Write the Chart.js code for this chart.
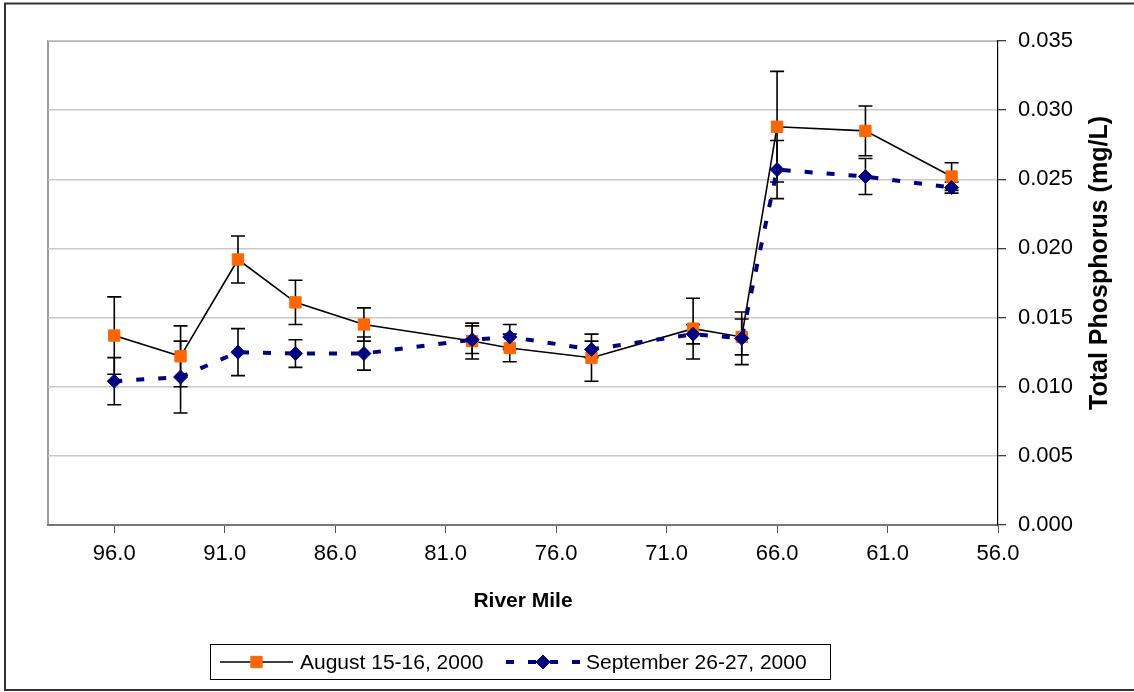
<!DOCTYPE html>
<html lang="en">
<head>
  <title>Total Phosphorus by River Mile</title>
  <script src="https://cdn.jsdelivr.net/npm/chart.js"></script>
  <style>
    html, body { margin: 0; padding: 0; background: #fff; }
    canvas { display: block; }
  </style>
</head>
<body>
<canvas id="tpChart" width="1134" height="692"></canvas>
<script>
  // sampling stations (river mile) and total phosphorus results, mg/L
  const riverMile = [96.0, 93.0, 90.4, 87.8, 84.7, 79.8, 78.1, 74.4, 69.8, 67.6, 66.0, 62.0, 58.1];
  const augTP  = [0.0137, 0.0122, 0.0192, 0.0161, 0.0145, 0.0133, 0.0128, 0.0121, 0.0142, 0.0136, 0.0288, 0.0285, 0.0252];
  const augErr = [0.0028, 0.0022, 0.0017, 0.0016, 0.0012, 0.0013, 0.0010, 0.0017, 0.0022, 0.0013, 0.0040, 0.0018, 0.0010];
  const sepTP  = [0.0104, 0.0107, 0.0125, 0.0124, 0.0124, 0.0134, 0.0136, 0.0127, 0.0138, 0.0135, 0.0257, 0.0252, 0.0244];
  const sepErr = [0.0017, 0.0026, 0.0017, 0.0010, 0.0012, 0.0010, 0.0009, 0.0006, 0.0007, 0.0019, 0.0021, 0.0013, 0.0004];
  const mileTicks = [96, 91, 86, 81, 76, 71, 66, 61, 56];
  const seriesNames = ['August 15-16, 2000', 'September 26-27, 2000'];

  const fontFamily = 'Arial, "Liberation Sans", sans-serif';
  const errorSets = [augErr, sepErr];

  function points(values) {
    return riverMile.map((m, i) => ({ x: m, y: values[i] }));
  }

  // black +/- error bars with caps, drawn under the markers
  const errorBars = {
    id: 'errorBars',
    beforeDatasetsDraw(chart) {
      const { ctx, scales: { x, y } } = chart;
      ctx.save();
      ctx.strokeStyle = '#000';
      ctx.lineWidth = 1.6;
      chart.data.datasets.forEach((ds, di) => {
        const errs = errorSets[di];
        ds.data.forEach((p, i) => {
          const px = x.getPixelForValue(p.x);
          const top = y.getPixelForValue(p.y + errs[i]);
          const bot = y.getPixelForValue(p.y - errs[i]);
          ctx.beginPath();
          ctx.moveTo(px, top); ctx.lineTo(px, bot);
          ctx.moveTo(px - 7, top); ctx.lineTo(px + 7, top);
          ctx.moveTo(px - 7, bot); ctx.lineTo(px + 7, bot);
          ctx.stroke();
        });
      });
      ctx.restore();
    }
  };

  // outer frame, plot area border, y title and the boxed legend
  const decorations = {
    id: 'decorations',
    beforeDraw(chart) {
      const { ctx, chartArea: a } = chart;
      ctx.save();
      ctx.strokeStyle = '#9a9a9a';
      ctx.lineWidth = 2;
      ctx.beginPath();
      ctx.moveTo(a.left, a.bottom); ctx.lineTo(a.left, a.top); ctx.lineTo(a.right, a.top);
      ctx.stroke();
      ctx.restore();
    },
    afterDraw(chart) {
      const { ctx } = chart;
      ctx.save();
      ctx.strokeStyle = '#333';
      ctx.lineWidth = 2;
      ctx.strokeRect(5, 3.5, 1140, 686.5);

      ctx.fillStyle = '#000';
      ctx.font = 'bold 25px ' + fontFamily;
      ctx.textAlign = 'center';
      ctx.textBaseline = 'middle';
      ctx.translate(1100, 263);
      ctx.rotate(-Math.PI / 2);
      ctx.fillText('Total Phosphorus (mg/L)', 0, 0);
      ctx.restore();

      // legend
      ctx.save();
      ctx.strokeStyle = '#000';
      ctx.lineWidth = 1;
      ctx.strokeRect(210.5, 644.5, 620, 35);
      const ly = 662;
      const items = [
        { x0: 220, x1: 293, text: 300 },
        { x0: 506, x1: 580, text: 586 }
      ];
      ctx.font = '21px ' + fontFamily;
      ctx.textBaseline = 'middle';
      ctx.textAlign = 'left';
      chart.data.datasets.forEach((ds, di) => {
        const it = items[di];
        ctx.save();
        ctx.strokeStyle = ds.borderColor;
        ctx.lineWidth = ds.borderWidth;
        ctx.setLineDash(ds.borderDash || []);
        ctx.beginPath();
        ctx.moveTo(it.x0, ly); ctx.lineTo(it.x1, ly);
        ctx.stroke();
        ctx.restore();
        ctx.fillStyle = ds.pointBackgroundColor;
        ctx.strokeStyle = ds.pointBorderColor;
        ctx.lineWidth = ds.pointBorderWidth;
        Chart.helpers.drawPoint(ctx, {
          pointStyle: ds.pointStyle, radius: ds.pointRadius, borderWidth: ds.pointBorderWidth
        }, (it.x0 + it.x1) / 2, ly);
        ctx.fillStyle = '#000';
        ctx.fillText(seriesNames[di], it.text, ly + 1);
      });
      ctx.restore();
    }
  };

  new Chart(document.getElementById('tpChart'), {
    type: 'line',
    data: {
      datasets: [{
        label: seriesNames[0],
        data: points(augTP),
        borderColor: '#000',
        borderWidth: 1.6,
        pointStyle: 'rect',
        pointRadius: 8,
        pointBackgroundColor: '#ff6600',
        pointBorderColor: '#ff6600',
        pointBorderWidth: 1,
        order: 1
      }, {
        label: seriesNames[1],
        data: points(sepTP),
        borderColor: '#000080',
        borderWidth: 4,
        borderDash: [8, 14],
        pointStyle: 'rectRot',
        pointRadius: 7,
        pointBackgroundColor: '#000080',
        pointBorderColor: '#000080',
        pointBorderWidth: 1,
        order: 0
      }]
    },
    options: {
      responsive: false,
      animation: false,
      layout: { padding: { left: 48, top: 41, right: 0, bottom: 0 } },
      plugins: { legend: { display: false }, tooltip: { enabled: false } },
      scales: {
        x: {
          type: 'linear',
          reverse: true,
          min: 56,
          max: 99,
          afterBuildTicks: s => { s.ticks = mileTicks.map(v => ({ value: v })); },
          afterFit: s => { s.height = 167; },
          ticks: {
            color: '#000',
            padding: 8,
            font: { family: fontFamily, size: 22 },
            callback: v => Number(v).toFixed(1)
          },
          grid: { drawOnChartArea: false, tickLength: 8, tickColor: '#555', tickWidth: 1 },
          border: { color: '#777', width: 2 },
          title: {
            display: true,
            text: 'River Mile',
            color: '#000',
            font: { family: fontFamily, size: 21, weight: 'bold' },
            padding: { top: 0, bottom: 78 }
          }
        },
        y: {
          position: 'right',
          min: 0,
          max: 0.035,
          afterFit: s => { s.width = 136; },
          ticks: {
            stepSize: 0.005,
            color: '#000',
            padding: 12,
            font: { family: fontFamily, size: 22 },
            callback: v => Number(v).toFixed(3)
          },
          grid: { color: '#c8c8c8', lineWidth: 1.5, tickLength: 8, tickColor: '#000', tickWidth: 1 },
          border: { color: '#000', width: 1.2 }
        }
      }
    },
    plugins: [errorBars, decorations]
  });
</script>
</body>
</html>
